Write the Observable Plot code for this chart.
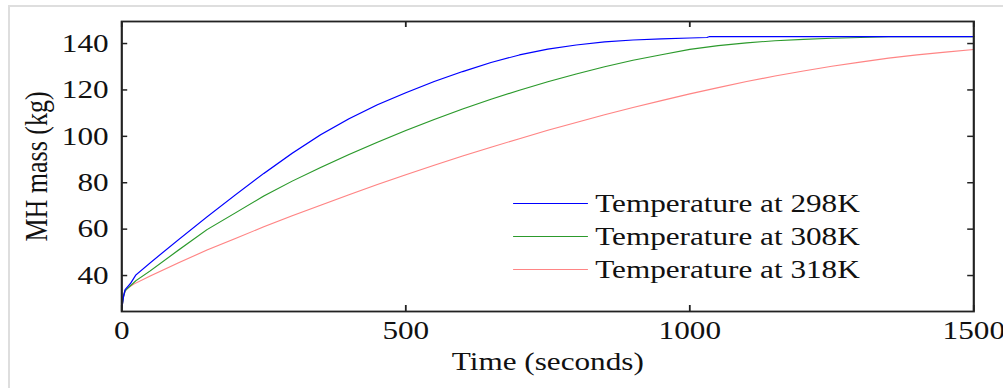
<!DOCTYPE html>
<html>
<head>
<meta charset="utf-8">
<script src="https://cdn.jsdelivr.net/npm/d3@7"></script>
<script src="https://cdn.jsdelivr.net/npm/@observablehq/plot@0.6"></script>
<style>
  html, body { margin: 0; padding: 0; background: #fff; }
  #page { position: relative; width: 1003px; height: 388px; overflow: hidden; background: #fff; }
  #border { position: absolute; left: 8px; top: 5px; width: 1100px; height: 500px;
            border-top: 2px solid #dedede; border-left: 2px solid #dedede; }
  #chart { position: absolute; left: 0; top: 0; }
  #chart svg { transform-origin: 0 0; }
</style>
</head>
<body>
<div id="page"><div id="border"></div><div id="chart"></div></div>
<script>
// Metal-hydride mass over time for three bed temperatures
const time298 = [0, 3, 6, 15, 25, 50, 100, 150, 200, 250, 300, 350, 400, 450, 500, 550, 600, 650, 700, 750, 800, 850, 900, 950, 1000, 1030, 1035, 1500];
const mass298 = [26, 31, 34, 36.5, 40.3, 45.5, 55.5, 65.3, 74.8, 84, 92.7, 100.7, 107.6, 113.6, 118.8, 123.6, 127.9, 131.8, 135.1, 137.6, 139.4, 140.7, 141.5, 142, 142.4, 142.6, 143, 143];

const time308 = [0, 3, 6, 15, 25, 50, 100, 150, 200, 250, 300, 350, 400, 450, 500, 550, 600, 650, 700, 750, 800, 850, 900, 950, 1000, 1050, 1100, 1150, 1200, 1250, 1300, 1350, 1360, 1500];
const mass308 = [26, 31, 33.5, 35.5, 37.8, 42, 51, 59.8, 67, 74.3, 80.7, 86.6, 92.2, 97.5, 102.5, 107.3, 111.8, 116, 119.9, 123.5, 126.9, 130, 132.8, 135.2, 137.5, 139.1, 140.3, 141.2, 141.8, 142.3, 142.6, 142.9, 143, 143];

const time318 = [0, 3, 5, 10, 21, 50, 100, 150, 200, 250, 300, 350, 400, 450, 500, 550, 600, 650, 700, 750, 800, 850, 900, 950, 1000, 1050, 1100, 1150, 1200, 1250, 1300, 1350, 1400, 1450, 1500];
const mass318 = [26, 31, 33, 34.5, 36.3, 39.8, 45.5, 51, 56, 61, 65.8, 70.3, 74.8, 79.2, 83.4, 87.5, 91.5, 95.3, 99, 102.6, 106, 109.3, 112.4, 115.4, 118.3, 121, 123.6, 126, 128.2, 130.2, 132, 133.7, 135.1, 136.3, 137.4];

const seriesNames = ["Temperature at 298K", "Temperature at 308K", "Temperature at 318K"];
const seriesColors = ["#0000ff", "#2c9a2c", "#ff8585"];

const xTicks = [0, 500, 1000, 1500];
const yTicks = [40, 60, 80, 100, 120, 140];

const toRows = (ts, ms, name) => ts.map((t, i) => ({t, m: ms[i], name}));
const rows = [
  toRows(time298, mass298, seriesNames[0]),
  toRows(time308, mass308, seriesNames[1]),
  toRows(time318, mass318, seriesNames[2])
];

// The figure is drawn narrow and widened horizontally, like a stretched export
const stretch = 1.2;
const width = Math.round(1003 / stretch);
const height = 388;
const mL = 101, mR = 25, mT = 21, mB = 77;
const innerW = width - mL - mR;
const innerH = height - mT - mB;

const font = '"Liberation Serif", "Times New Roman", serif';
const fs = 26;
const ink = "#222";
const tick = 5;

// short line sample used by the legend
const dash = {draw(ctx, l) { ctx.moveTo(0, 0); ctx.lineTo(0, -l); }};
const legendMarks = seriesNames.flatMap((name, i) => [
  Plot.vector([name], {frameAnchor: "top-left", dx: 326.5, dy: 182 + 33 * i, rotate: 90, length: 61.5,
    anchor: "start", shape: dash, stroke: seriesColors[i], strokeWidth: 1.2}),
  Plot.text([name], {frameAnchor: "top-left", dx: 394.5, dy: 182 + 33 * i, text: d => d,
    textAnchor: "start", lineAnchor: "middle", fontSize: fs, fill: "#111"})
]);

const chart = Plot.plot({
  width, height,
  marginLeft: mL, marginRight: mR, marginTop: mT, marginBottom: mB,
  style: {fontFamily: font, fontSize: fs + "px", background: "transparent", color: "#111", overflow: "visible"},
  x: {domain: [0, 1500]},
  y: {domain: [24.5, 149.5]},
  marks: [
    Plot.line(rows[2], {x: "t", y: "m", stroke: seriesColors[2], strokeWidth: 1.1}),
    Plot.line(rows[1], {x: "t", y: "m", stroke: seriesColors[1], strokeWidth: 1.1}),
    Plot.line(rows[0], {x: "t", y: "m", stroke: seriesColors[0], strokeWidth: 1.1}),
    // inward ticks on all four sides
    Plot.tickX(xTicks, {x: d => d, insetTop: innerH - tick - 1, stroke: ink, strokeWidth: 1.5}),
    Plot.tickX(xTicks, {x: d => d, insetBottom: innerH - tick - 1, stroke: ink, strokeWidth: 1.5}),
    Plot.tickY(yTicks, {y: d => d, insetRight: innerW - tick, stroke: ink, strokeWidth: 1.5}),
    Plot.tickY(yTicks, {y: d => d, insetLeft: innerW - tick, stroke: ink, strokeWidth: 1.5}),
    Plot.frame({stroke: ink, strokeWidth: 1.8}),
    Plot.axisX(xTicks, {anchor: "bottom", tickSize: 0, tickPadding: 9, label: null, tickFormat: d3.format("d"), fontSize: fs, fill: "#111"}),
    Plot.axisY(yTicks, {anchor: "left", tickSize: 0, tickPadding: 11, label: null, tickFormat: d3.format("d"), fontSize: fs, fill: "#111"}),
    Plot.text(["Time (seconds)"], {frameAnchor: "bottom", dy: 50.5, text: d => d, lineAnchor: "middle", fontSize: fs, fill: "#111"}),
    Plot.text(["MH mass (kg)"], {frameAnchor: "left", dx: -71, rotate: -90, text: d => d, textAnchor: "middle", lineAnchor: "middle", fontSize: fs, fill: "#111"}),
    ...legendMarks
  ]
});
chart.style.transform = `scale(${stretch}, 1)`;
document.getElementById("chart").appendChild(chart);
</script>
</body>
</html>
